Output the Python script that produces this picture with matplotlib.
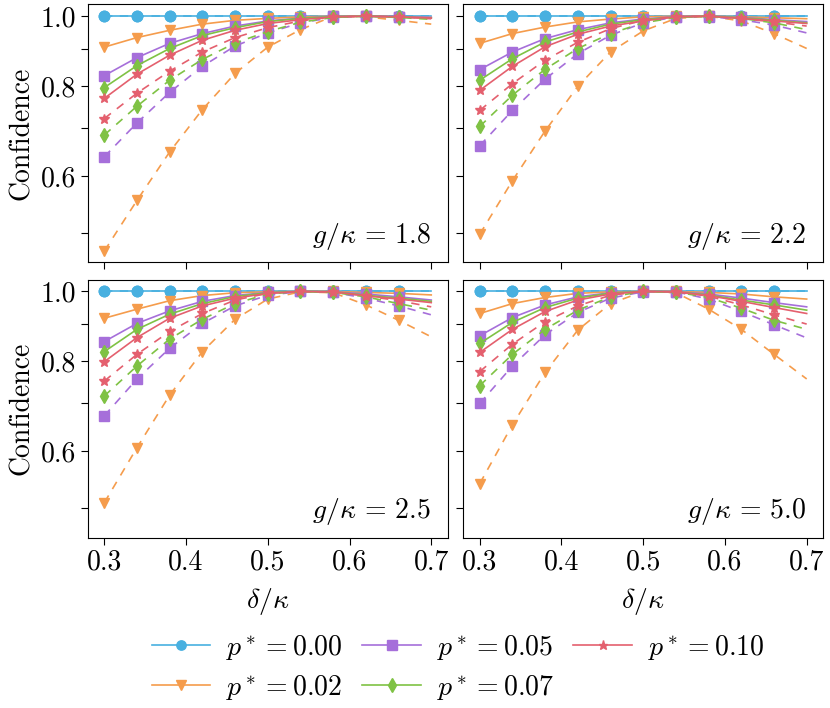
import matplotlib
matplotlib.use("Agg")
import matplotlib.pyplot as plt
import numpy as np

plt.rcParams['font.family'] = 'serif'
plt.rcParams['font.serif'] = ['cmr10']
plt.rcParams['mathtext.fontset'] = 'cm'
plt.rcParams['axes.unicode_minus'] = False
plt.rcParams['axes.formatter.use_mathtext'] = True

# detuning grid (delta/kappa)
delta = [0.30, 0.34, 0.38, 0.42, 0.46, 0.50, 0.54, 0.58, 0.62, 0.66, 0.70]
p_star = ['0.00', '0.02', '0.05', '0.07', '0.10']
g_vals = ['1.8', '2.2', '2.5', '5.0']
colors = ['#48b0e0', '#f59c4c', '#a66fda', '#7fc244', '#e4606e']
markers = ['o', 'v', 's', 'd', '*']

# confidence, rows = p*, solid curves
solid_18 = [
    [1, 1, 1, 1, 1, 1, 1, 1, 1, 1, 1],
    [0.906, 0.934, 0.956, 0.975, 0.987, 0.993, 0.998, 1.0, 1.0, 0.998, 0.996],
    [0.827, 0.876, 0.917, 0.946, 0.969, 0.985, 0.994, 1.0, 1.0, 0.999, 0.996],
    [0.796, 0.854, 0.902, 0.940, 0.964, 0.983, 0.993, 0.999, 1.0, 0.998, 0.994],
    [0.769, 0.831, 0.883, 0.926, 0.956, 0.977, 0.989, 0.998, 1.0, 0.998, 0.994],
]
dashed_18 = [
    [1, 1, 1, 1, 1, 1, 1, 1, 1, 1, 1],
    [0.472, 0.555, 0.648, 0.742, 0.833, 0.906, 0.958, 1.0, 0.998, 0.987, 0.975],
    [0.638, 0.711, 0.784, 0.852, 0.909, 0.948, 0.979, 0.996, 1.0, 0.998, 0.993],
    [0.684, 0.750, 0.815, 0.871, 0.918, 0.952, 0.981, 0.996, 1.0, 0.996, 0.990],
    [0.721, 0.782, 0.839, 0.892, 0.934, 0.964, 0.985, 0.998, 1.0, 0.998, 0.992],
]
solid_22 = [
    [1, 1, 1, 1, 1, 1, 1, 1, 1, 1, 1],
    [0.917, 0.946, 0.966, 0.982, 0.991, 0.998, 1.0, 1.0, 0.998, 0.995, 0.992],
    [0.843, 0.892, 0.931, 0.958, 0.979, 0.991, 0.999, 1.0, 0.996, 0.989, 0.983],
    [0.815, 0.873, 0.921, 0.951, 0.975, 0.989, 0.998, 1.0, 0.995, 0.987, 0.979],
    [0.789, 0.852, 0.907, 0.944, 0.969, 0.985, 0.998, 1.0, 0.993, 0.985, 0.977],
]
dashed_22 = [
    [1, 1, 1, 1, 1, 1, 1, 1, 1, 1, 1],
    [0.498, 0.591, 0.693, 0.799, 0.892, 0.954, 0.993, 1.0, 0.985, 0.946, 0.902],
    [0.661, 0.740, 0.818, 0.887, 0.941, 0.979, 0.998, 0.999, 0.989, 0.972, 0.948],
    [0.703, 0.777, 0.844, 0.902, 0.946, 0.979, 0.996, 1.0, 0.993, 0.979, 0.958],
    [0.740, 0.806, 0.869, 0.920, 0.961, 0.987, 0.999, 1.0, 0.992, 0.982, 0.969],
]
solid_25 = [
    [1, 1, 1, 1, 1, 1, 1, 1, 1, 1, 1],
    [0.918, 0.945, 0.971, 0.987, 0.996, 0.999, 1.0, 1.0, 0.997, 0.994, 0.989],
    [0.852, 0.903, 0.940, 0.969, 0.987, 0.997, 1.0, 0.999, 0.992, 0.983, 0.973],
    [0.825, 0.886, 0.930, 0.962, 0.984, 0.996, 1.0, 0.999, 0.988, 0.979, 0.969],
    [0.799, 0.863, 0.918, 0.955, 0.979, 0.994, 1.0, 0.999, 0.986, 0.976, 0.965],
]
dashed_25 = [
    [1, 1, 1, 1, 1, 1, 1, 1, 1, 1, 1],
    [0.509, 0.607, 0.718, 0.825, 0.915, 0.976, 0.999, 0.996, 0.958, 0.912, 0.865],
    [0.672, 0.756, 0.834, 0.903, 0.955, 0.988, 1.0, 0.997, 0.979, 0.955, 0.928],
    [0.716, 0.788, 0.859, 0.915, 0.962, 0.992, 1.0, 0.997, 0.983, 0.962, 0.942],
    [0.751, 0.818, 0.880, 0.932, 0.973, 0.994, 1.0, 0.998, 0.986, 0.971, 0.952],
]
solid_50 = [
    [1, 1, 1, 1, 1, 1, 1, 1, 1, 1, 1],
    [0.932, 0.962, 0.981, 0.994, 0.999, 1.0, 1.0, 0.997, 0.992, 0.983, 0.976],
    [0.868, 0.920, 0.958, 0.983, 0.996, 1.0, 0.999, 0.992, 0.979, 0.965, 0.952],
    [0.847, 0.906, 0.950, 0.979, 0.995, 1.0, 0.999, 0.989, 0.973, 0.958, 0.942],
    [0.823, 0.886, 0.938, 0.973, 0.992, 1.0, 0.999, 0.987, 0.969, 0.950, 0.932],
]
dashed_50 = [
    [1, 1, 1, 1, 1, 1, 1, 1, 1, 1, 1],
    [0.541, 0.653, 0.772, 0.884, 0.962, 1.0, 0.996, 0.945, 0.886, 0.818, 0.756],
    [0.699, 0.788, 0.871, 0.935, 0.979, 0.999, 0.999, 0.976, 0.938, 0.899, 0.862],
    [0.740, 0.818, 0.886, 0.942, 0.983, 1.0, 0.998, 0.981, 0.948, 0.912, 0.886],
    [0.774, 0.845, 0.908, 0.955, 0.988, 1.0, 0.999, 0.985, 0.958, 0.928, 0.901],
]

panels = [(solid_18, dashed_18), (solid_22, dashed_22),
          (solid_25, dashed_25), (solid_50, dashed_50)]

fig, axes = plt.subplots(2, 2, figsize=(8.3, 7.08), dpi=100, sharex=True, sharey=True)
fig.subplots_adjust(left=0.106, right=0.9916, top=0.994, bottom=0.2405,
                    wspace=0.044, hspace=0.066)

for k, ax in enumerate(axes.flat):
    solid, dashed = panels[k]
    for i in range(len(p_star)):
        ax.plot(delta, solid[i], color=colors[i], marker=markers[i], ms=7.5,
                lw=1.2, markevery=slice(0, 10), label=r'$p^* = %s$' % p_star[i])
        ax.plot(delta, dashed[i], color=colors[i], marker=markers[i], ms=7.5,
                lw=1.2, ls=(0, (5, 4.5)), markevery=slice(0, 10))
    ax.text(0.952, 0.04, r'$g/\kappa\,=\,%s$' % g_vals[k], transform=ax.transAxes,
            ha='right', va='bottom', fontsize=20)
    ax.set_yscale('log')
    ax.set_yticks([0.5, 0.6, 0.7, 0.8, 0.9, 1.0])
    ax.set_yticklabels(['', '0.6', '', '0.8', '', '1.0'])
    ax.minorticks_off()
    ax.set_xticks([0.3, 0.4, 0.5, 0.6, 0.7])
    ax.set_xticklabels(['0.3', '0.4', '0.5', '0.6', '0.7'])
    ax.tick_params(labelsize=20, length=5)
    ax.set_ylim(0.455, 1.039)
    ax.set_xlim(0.28, 0.72)

for ax in axes[:, 0]:
    ax.set_ylabel('Confidence', fontsize=20)
for ax in axes[1, :]:
    ax.set_xlabel(r'$\delta/\kappa$', fontsize=20, labelpad=7)

handles, labels = axes[0, 0].get_legend_handles_labels()
fig.legend(handles, labels, loc='center', bbox_to_anchor=(0.552, 0.057), ncol=3,
           frameon=False, fontsize=20, handlelength=2.1, handletextpad=0.58,
           columnspacing=0.7, labelspacing=0.4, numpoints=1, markerscale=0.9)

fig.savefig('out.png', dpi=100)
